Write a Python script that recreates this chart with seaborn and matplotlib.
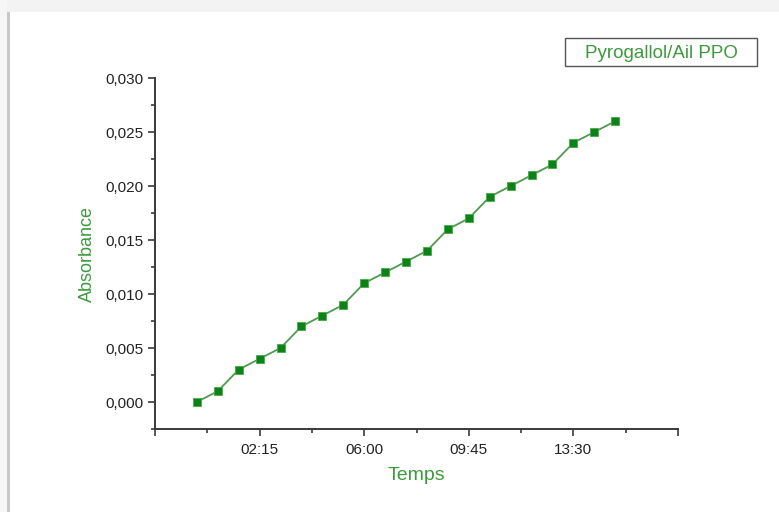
import matplotlib
matplotlib.use("Agg")
import matplotlib.pyplot as plt
from matplotlib.ticker import FixedLocator, FuncFormatter, MultipleLocator
from matplotlib.patches import Rectangle
import pandas as pd
import seaborn as sns

# Sampling times (mm:ss) and measured absorbance for pyrogallol / garlic PPO
temps = ["00:00", "00:45", "01:30", "02:15", "03:00", "03:45", "04:30",
         "05:15", "06:00", "06:45", "07:30", "08:15", "09:00", "09:45",
         "10:30", "11:15", "12:00", "12:45", "13:30", "14:15", "15:00"]
absorbance = [0.000, 0.001, 0.003, 0.004, 0.005, 0.007, 0.008,
              0.009, 0.011, 0.012, 0.013, 0.014, 0.016, 0.017,
              0.019, 0.020, 0.021, 0.022, 0.024, 0.025, 0.026]
time_ticks = ["02:15", "06:00", "09:45", "13:30"]
series_label = "Pyrogallol/Ail PPO"


def to_seconds(t):
    m, s = t.split(":")
    return int(m) * 60 + int(s)


df = pd.DataFrame({"t": [to_seconds(t) for t in temps], "A": absorbance})

sns.set_theme(style="ticks")
plt.rcParams["font.family"] = ["Liberation Sans", "DejaVu Sans"]

green_text = "#3c9a3c"
line_green = "#4f9a4f"
marker_green = "#10801a"
axis_grey = "#3a3a3a"

fig = plt.figure(figsize=(7.79, 5.12), dpi=100)
fig.patch.set_facecolor("white")

# page-like frame: light band on top, soft shadow on the left
fig.add_artist(Rectangle((0, 1 - 12 / 512), 1, 12 / 512, transform=fig.transFigure,
                         facecolor="#f3f3f3", edgecolor="none", zorder=0))
fig.add_artist(Rectangle((0, 0), 7 / 779, 1, transform=fig.transFigure,
                         facecolor="#f6f6f6", edgecolor="none", zorder=0))
fig.add_artist(Rectangle((7 / 779, 0), 3 / 779, 1 - 12 / 512, transform=fig.transFigure,
                         facecolor="#c8c8c8", edgecolor="none", zorder=0))

ax = fig.add_axes([155 / 779, 1 - 429 / 512, (678 - 155) / 779, (429 - 78) / 512])
ax.set_facecolor("white")

sns.lineplot(data=df, x="t", y="A", ax=ax, color=line_green, linewidth=1.3,
             marker="s", markersize=5.5, markerfacecolor=marker_green,
             markeredgecolor="#3fae3f", markeredgewidth=0.6)

x_lo, x_hi = -90, 1035
ax.set_xlim(x_lo, x_hi)
ax.set_ylim(-0.0025, 0.030)

# labelled ticks every 03:45, plus unlabelled ticks at both ends of the axis
labelled = [to_seconds(t) for t in time_ticks]
ax.xaxis.set_major_locator(FixedLocator([x_lo] + labelled + [x_hi]))
ax.xaxis.set_minor_locator(FixedLocator([v + 112.5 for v in [x_lo] + labelled]))
ax.xaxis.set_major_formatter(FuncFormatter(
    lambda v, p: f"{int(v) // 60:02d}:{int(v) % 60:02d}" if v in labelled else ""))

ax.yaxis.set_major_locator(MultipleLocator(0.005))
ax.yaxis.set_minor_locator(MultipleLocator(0.0025))
ax.yaxis.set_major_formatter(FuncFormatter(lambda v, p: f"{v:.3f}".replace(".", ",")))

for side in ("top", "right"):
    ax.spines[side].set_visible(False)
for side in ("left", "bottom"):
    ax.spines[side].set_color(axis_grey)
    ax.spines[side].set_linewidth(1.4)

ax.tick_params(axis="both", which="major", direction="out", length=5, width=1.2,
               color=axis_grey, labelsize=11, labelcolor="#222222", pad=3)
ax.tick_params(axis="x", which="major", pad=5)
ax.tick_params(axis="both", which="minor", direction="out", length=3, width=1.2,
               color=axis_grey)

ax.set_xlabel("Temps", color=green_text, fontsize=14, labelpad=7)
ax.set_ylabel("Absorbance", color=green_text, fontsize=13, labelpad=7)

# series caption in a framed box at the top right
fig.add_artist(Rectangle((565 / 779, 1 - 66 / 512), 192 / 779, 28 / 512,
                         transform=fig.transFigure, facecolor="white",
                         edgecolor="#555555", linewidth=1.0, zorder=3))
fig.text(661 / 779, 1 - 52 / 512, series_label, color=green_text, fontsize=13.5,
         ha="center", va="center_baseline", zorder=4)

fig.savefig("out.png", dpi=100, facecolor=fig.get_facecolor())
